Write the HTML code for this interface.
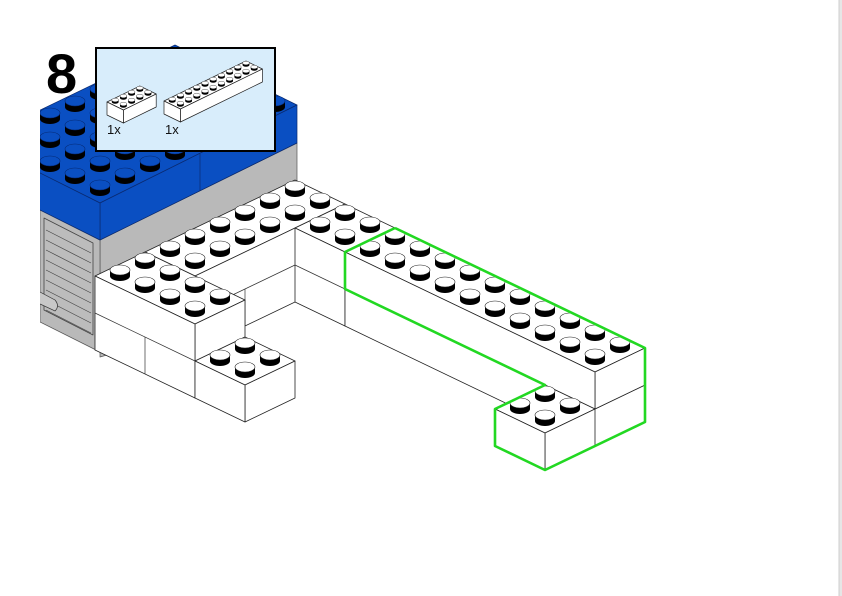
<!DOCTYPE html>
<html><head><meta charset="utf-8"><style>
html,body{margin:0;padding:0;background:#fff;}
body{width:842px;height:596px;overflow:hidden;position:relative;font-family:"Liberation Sans",sans-serif;}
svg{position:absolute;left:0;top:0;}
</style></head><body>
<svg id="s" width="842" height="596" viewBox="0 0 842 596" xmlns="http://www.w3.org/2000/svg"></svg>
<script>
var out=[];
function P(X,Y,Z){return [395+25*(X-Y),228+12*(X+Y)-37*(Z-2)];}
function pts(a){return a.map(function(p){return p[0].toFixed(1)+","+p[1].toFixed(1)}).join(" ");}
function poly(a,fill,stroke,sw){out.push('<polygon points="'+pts(a)+'" fill="'+fill+'" stroke="'+(stroke||"#222")+'" stroke-width="'+(sw||0.8)+'" stroke-linejoin="round"/>');}
function line(a,b,c,w){out.push('<line x1="'+a[0]+'" y1="'+a[1]+'" x2="'+b[0]+'" y2="'+b[1]+'" stroke="'+(c||"#333")+'" stroke-width="'+(w||0.7)+'"/>');}
function stud(cx,cy,top,edge){var h=6;
 out.push('<ellipse cx="'+cx+'" cy="'+cy+'" rx="10" ry="5" fill="#000"/>');
 out.push('<rect x="'+(cx-10)+'" y="'+(cy-h)+'" width="20" height="'+h+'" fill="#000"/>');
 out.push('<ellipse cx="'+cx+'" cy="'+(cy-h)+'" rx="10" ry="5" fill="'+top+'" stroke="'+edge+'" stroke-width="0.6"/>');}
function inside(p,poly){var c=false;for(var i=0,j=poly.length-1;i<poly.length;j=i++){var a=poly[i],b=poly[j];
 if(((a[1]>p[1])!=(b[1]>p[1]))&&(p[0]<(b[0]-a[0])*(p[1]-a[1])/(b[1]-a[1])+a[0]))c=!c;}return c;}
function box(x0,x1,y0,y1,z0,z1,o){o=o||{};
 poly([P(x0,y0,z1),P(x1,y0,z1),P(x1,y1,z1),P(x0,y1,z1)],"#fff");
 poly([P(x1,y0,z1),P(x1,y1,z1),P(x1,y1,z0),P(x1,y0,z0)],"#fff");
 poly([P(x0,y1,z1),P(x1,y1,z1),P(x1,y1,z0),P(x0,y1,z0)],"#fff");
 if(o.studs!==false){var L=[];for(var i=x0;i<x1;i++)for(var j=y0;j<y1;j++)L.push([i,j]);
  L.sort(function(a,b){return (a[0]+a[1])-(b[0]+b[1])});
  L.forEach(function(q){var c=P(q[0]+.5,q[1]+.5,z1);stud(c[0],c[1],"#fff","#222");});}
}
// ---------- building ----------
out.push('<defs><clipPath id="cl"><rect x="40" y="0" width="300" height="600"/></clipPath></defs>');
out.push('<g clip-path="url(#cl)">');
poly([[100,240],[297,143],[297,300],[100,357]],"#b9b9b9","#555",0.7);
poly([[40,210],[100,240],[100,352],[40,322]],"#b9b9b9","#555",0.7);
poly([[44,218],[93,243],[93,335],[44,310]],"#bcbcbc","#444",0.8);
for(var k=0;k<9;k++){var y=230+k*10;line([46,y],[91,y+23],"#444",0.7);}
out.push('<path d="M40 292 L55 300 Q60 306 55 311 L40 304" fill="#c8c8c8" stroke="#333" stroke-width="0.7"/>');
var TOP=[[30,115],[175,45],[297,105],[100,203],[30,168]];
poly(TOP,"#0a4fc2","#0a2a70",0.7);
var BL=[];for(var i=0;i<6;i++)for(var j=0;j<9;j++)BL.push([i,j]);
BL.sort(function(a,b){return (b[0]+b[1])-(a[0]+a[1])});
BL.forEach(function(q){var cx=100+(q[0]+.5)*-25+(q[1]+.5)*25,cy=203+(q[0]+.5)*-12+(q[1]+.5)*-12;
 if(inside([cx,cy],TOP))stud(cx,cy,"#0a4fc2","#062a75");});
poly([[100,203],[297,105],[297,143],[100,240]],"#0a4fc2","#0a2a70",0.7);
poly([[30,168],[100,203],[100,240],[30,205]],"#0a4fc2","#0a2a70",0.7);
line([200,154],[200,191],"#0a2a70",0.7);
out.push('</g>');
// ---------- white structure ----------
box(-4,-2,0,6,0,2);
line(P(-2,2,1),P(-2,6,1));line(P(-2,4,1),P(-2,4,0));
box(-2,0,0,2,0,2);
line(P(-2,2,1),P(0,2,1));
box(0,8,0,2,0,1,{studs:false});
box(8,10,0,4,0,1);
box(0,10,0,2,1,2);
box(8,10,2,4,0,1);
box(-4,0,6,8,0,2);
line(P(-4,8,1),P(0,8,1));line(P(-2,8,1),P(-2,8,0));line(P(0,6,1),P(0,8,1));
box(0,2,6,8,0,1);
out.push('<polyline points="'+pts([P(0,0,2),P(10,0,2),P(10,0,0),P(10,4,0),P(8,4,0),P(8,4,1),P(8,2,1),P(0,2,1),P(0,2,2),P(0,0,2)])+'" fill="none" stroke="#22d822" stroke-width="2.6" stroke-linejoin="round"/>');
// ---------- inset ----------
out.push('<rect x="96" y="48" width="179" height="103" fill="#d8edfb" stroke="#000" stroke-width="2"/>');
function mini(Lx,Ly,n){var u=[8.2,-4],w=[8.2,4],h=13;
 var A=[Lx,Ly],B=[Lx+n*u[0],Ly+n*u[1]],C=[B[0]+2*w[0],B[1]+2*w[1]],D=[Lx+2*w[0],Ly+2*w[1]];
 poly([A,B,C,D],"#fff","#222",0.7);
 poly([D,C,[C[0],C[1]+h],[D[0],D[1]+h]],"#fff","#222",0.7);
 poly([A,D,[D[0],D[1]+h],[A[0],A[1]+h]],"#fff","#222",0.7);
 for(var j=0;j<2;j++)for(var i=n-1;i>=0;i--){var cx=Lx+(i+.5)*u[0]+(j+.5)*w[0],cy=Ly+(i+.5)*u[1]+(j+.5)*w[1];
  out.push('<ellipse cx="'+cx+'" cy="'+cy+'" rx="3.4" ry="1.8" fill="#000"/><rect x="'+(cx-3.4)+'" y="'+(cy-2)+'" width="6.8" height="2" fill="#000"/><ellipse cx="'+cx+'" cy="'+(cy-2)+'" rx="3.4" ry="1.8" fill="#fff" stroke="#222" stroke-width="0.4"/>');}
}
mini(107,102,4);
mini(164,101,10);
out.push('<text x="107" y="134" font-family="Liberation Sans, sans-serif" font-size="13" fill="#111">1x</text>');
out.push('<text x="165" y="134" font-family="Liberation Sans, sans-serif" font-size="13" fill="#111">1x</text>');
out.push('<text x="46" y="93" font-family="Liberation Sans, sans-serif" font-size="56" font-weight="bold" fill="#000">8</text>');
out.push('<rect x="839" y="0" width="3" height="596" fill="#e6e6e6"/><line x1="839" y1="0" x2="839" y2="596" stroke="#cfcfcf" stroke-width="1"/>');
document.getElementById("s").innerHTML=out.join("");
</script>
</body></html>
